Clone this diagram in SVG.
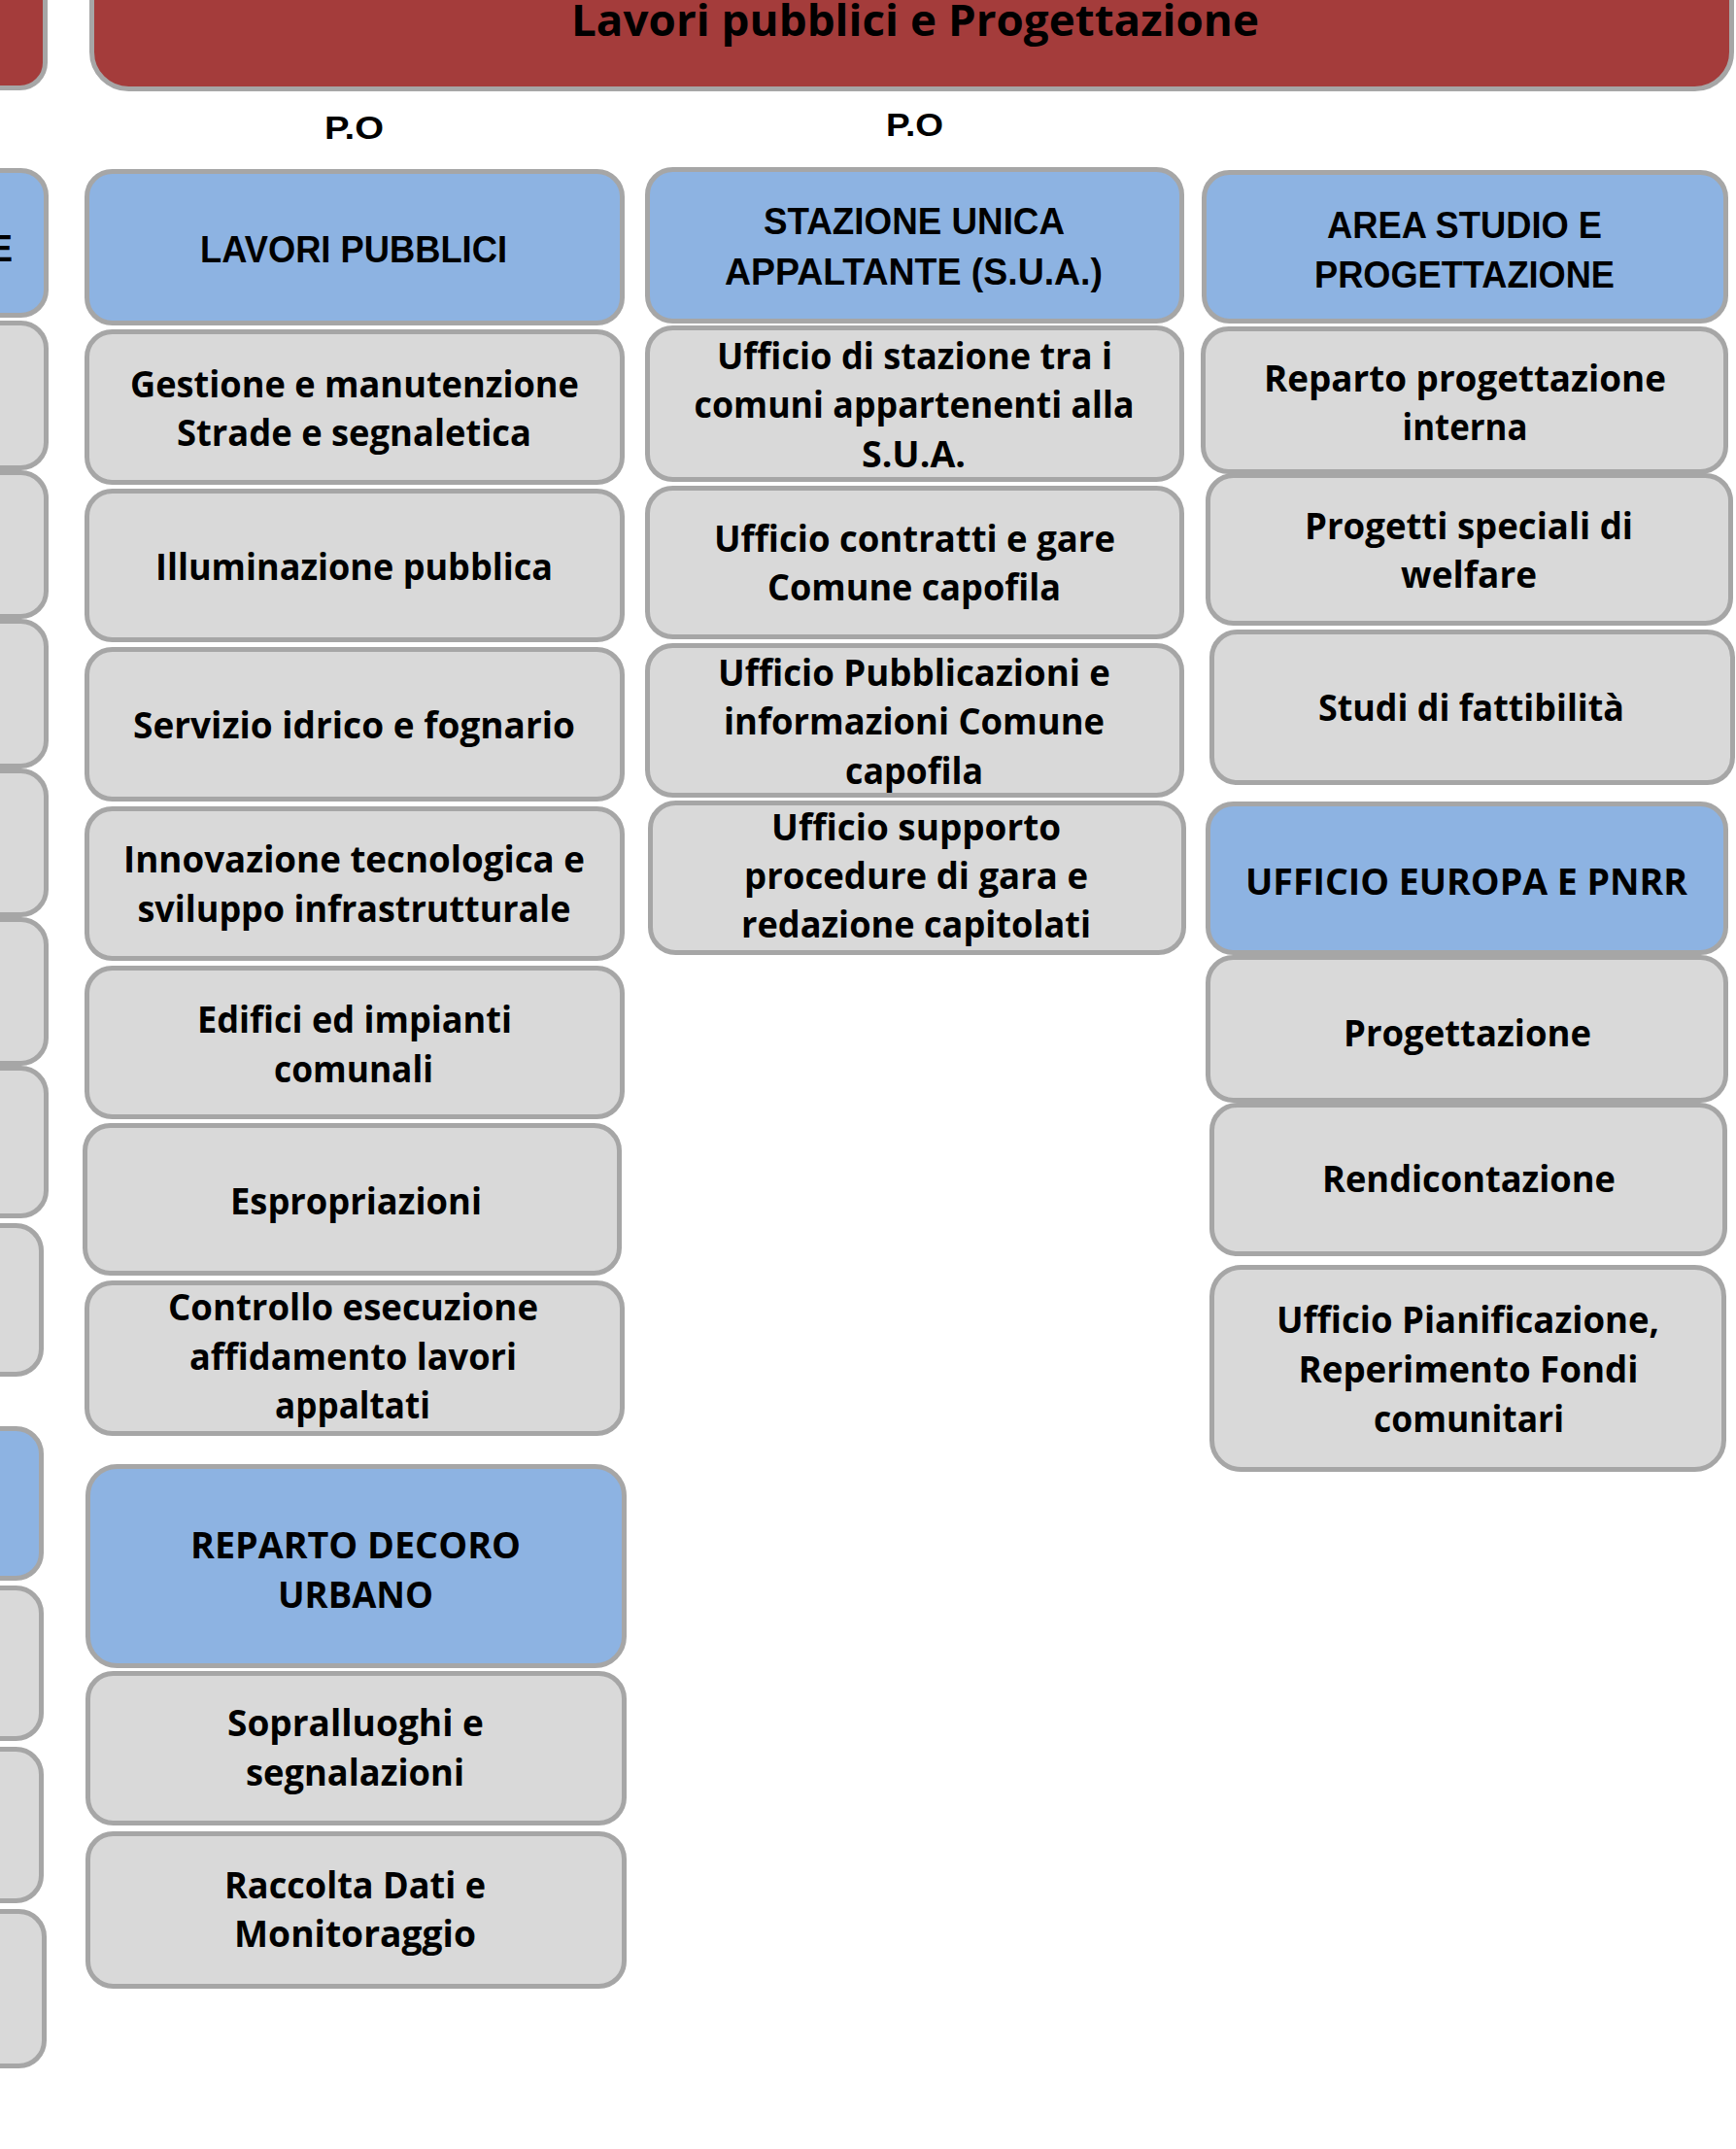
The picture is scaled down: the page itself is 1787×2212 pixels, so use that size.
<svg xmlns="http://www.w3.org/2000/svg" width="1787" height="2212" viewBox="0 0 1787 2212">
<style>
.red{fill:#A43C3B;stroke:#A6A6A6;stroke-width:5}
.blue{fill:#8DB3E2;stroke:#A6A6A6;stroke-width:5}
.gray{fill:#D9D9D9;stroke:#A6A6A6;stroke-width:5}
.h{font-family:"Liberation Sans",Arial,sans-serif;font-weight:700;font-size:38px;text-anchor:middle;fill:#000}
.t{font-family:"Open Sans","Noto Sans",sans-serif;font-weight:700;font-size:38px;text-anchor:middle;fill:#000}
.ttl{font-family:"Open Sans","Noto Sans",sans-serif;font-weight:700;font-size:45px;text-anchor:middle;fill:#000}
</style>
<rect width="1787" height="2212" fill="#FFFFFF"/>
<g id="connectors"/>

<!-- left partial column -->
<g id="left-red"><rect class="red" x="-60" y="-60" width="106.5" height="150.5" rx="26"/></g>
<g id="left-header1"><rect class="blue" x="-60" y="175.5" width="107.5" height="149" rx="26"/>
<text class="h" x="13" y="269" style="text-anchor:end">E</text></g>
<g id="left-b1"><rect class="gray" x="-60" y="332.5" width="107.5" height="149" rx="26"/></g>
<g id="left-b2"><rect class="gray" x="-60" y="486.5" width="107.5" height="148" rx="26"/></g>
<g id="left-b3"><rect class="gray" x="-60" y="639.5" width="107.5" height="149" rx="26"/></g>
<g id="left-b4"><rect class="gray" x="-60" y="793.5" width="107.5" height="148" rx="26"/></g>
<g id="left-b5"><rect class="gray" x="-60" y="946.5" width="107.5" height="148" rx="26"/></g>
<g id="left-b6"><rect class="gray" x="-60" y="1099.5" width="107.5" height="152" rx="26"/></g>
<g id="left-b7"><rect class="gray" x="-60" y="1261.5" width="102.5" height="153" rx="26"/></g>
<g id="left-header2"><rect class="blue" x="-60" y="1470.5" width="102.5" height="154" rx="26"/></g>
<g id="left-b8"><rect class="gray" x="-60" y="1634.5" width="102.5" height="155" rx="26"/></g>
<g id="left-b9"><rect class="gray" x="-60" y="1800.5" width="102.5" height="156" rx="26"/></g>
<g id="left-b10"><rect class="gray" x="-60" y="1967.5" width="105.5" height="159" rx="26"/></g>

<!-- title -->
<g id="title"><rect class="red" x="94.5" y="-60" width="1688" height="151.5" rx="38"/>
<text class="ttl" x="942" y="37" textLength="708" lengthAdjust="spacingAndGlyphs">Lavori pubblici e Progettazione</text></g>

<g id="po1"><text class="h" x="364.5" y="143" style="font-size:34px" textLength="61" lengthAdjust="spacingAndGlyphs">P.O</text></g>
<g id="po2"><text class="h" x="941.5" y="140" style="font-size:34px" textLength="59" lengthAdjust="spacingAndGlyphs">P.O</text></g>

<!-- column 1 -->
<g id="lavori-pubblici"><rect class="blue" x="89.5" y="176.5" width="551" height="156" rx="26"/>
<text class="h" x="364" y="270" textLength="316" lengthAdjust="spacingAndGlyphs">LAVORI PUBBLICI</text></g>
<g id="gestione"><rect class="gray" x="89.5" y="341.5" width="551" height="155" rx="26"/>
<text class="t" x="365" y="408.5" textLength="462" lengthAdjust="spacingAndGlyphs">Gestione e manutenzione</text>
<text class="t" x="364.5" y="458.5" textLength="365" lengthAdjust="spacingAndGlyphs">Strade e segnaletica</text></g>
<g id="illuminazione"><rect class="gray" x="89.5" y="505.5" width="551" height="153" rx="26"/>
<text class="t" x="364.5" y="597" textLength="409" lengthAdjust="spacingAndGlyphs">Illuminazione pubblica</text></g>
<g id="servizio-idrico"><rect class="gray" x="89.5" y="668.5" width="551" height="154" rx="26"/>
<text class="t" x="364.5" y="760" textLength="455" lengthAdjust="spacingAndGlyphs">Servizio idrico e fognario</text></g>
<g id="innovazione"><rect class="gray" x="89.5" y="832.5" width="551" height="154" rx="26"/>
<text class="t" x="364.5" y="898" textLength="475" lengthAdjust="spacingAndGlyphs">Innovazione tecnologica e</text>
<text class="t" x="364.5" y="948.5" textLength="446" lengthAdjust="spacingAndGlyphs">sviluppo infrastrutturale</text></g>
<g id="edifici"><rect class="gray" x="89.5" y="996.5" width="551" height="153" rx="26"/>
<text class="t" x="365" y="1062.5" textLength="324" lengthAdjust="spacingAndGlyphs">Edifici ed impianti</text>
<text class="t" x="364" y="1114" textLength="164" lengthAdjust="spacingAndGlyphs">comunali</text></g>
<g id="espropriazioni"><rect class="gray" x="87.5" y="1158.5" width="550" height="152" rx="26"/>
<text class="t" x="366.5" y="1250" textLength="259" lengthAdjust="spacingAndGlyphs">Espropriazioni</text></g>
<g id="controllo"><rect class="gray" x="89.5" y="1320.5" width="551" height="155" rx="26"/>
<text class="t" x="363.5" y="1359" textLength="381" lengthAdjust="spacingAndGlyphs">Controllo esecuzione</text>
<text class="t" x="363.5" y="1410" textLength="337" lengthAdjust="spacingAndGlyphs">affidamento lavori</text>
<text class="t" x="363" y="1460" textLength="160" lengthAdjust="spacingAndGlyphs">appaltati</text></g>
<g id="reparto-decoro"><rect class="blue" x="90.5" y="1509.5" width="552" height="205" rx="30"/>
<text class="t" x="366" y="1604" textLength="340" lengthAdjust="spacingAndGlyphs">REPARTO DECORO</text>
<text class="t" x="366" y="1654.5" textLength="160" lengthAdjust="spacingAndGlyphs">URBANO</text></g>
<g id="sopralluoghi"><rect class="gray" x="90.5" y="1722.5" width="552" height="154" rx="26"/>
<text class="t" x="366" y="1787" textLength="264" lengthAdjust="spacingAndGlyphs">Sopralluoghi e</text>
<text class="t" x="365.5" y="1837.5" textLength="225" lengthAdjust="spacingAndGlyphs">segnalazioni</text></g>
<g id="raccolta-dati"><rect class="gray" x="90.5" y="1887.5" width="552" height="157" rx="26"/>
<text class="t" x="365.5" y="1953.5" textLength="269" lengthAdjust="spacingAndGlyphs">Raccolta Dati e</text>
<text class="t" x="365.5" y="2003.5" textLength="249" lengthAdjust="spacingAndGlyphs">Monitoraggio</text></g>

<!-- column 2 -->
<g id="sua"><rect class="blue" x="666.5" y="174.5" width="550" height="156" rx="26"/>
<text class="h" x="941" y="241" textLength="310" lengthAdjust="spacingAndGlyphs">STAZIONE UNICA</text>
<text class="h" x="940.5" y="293" textLength="389" lengthAdjust="spacingAndGlyphs">APPALTANTE (S.U.A.)</text></g>
<g id="ufficio-stazione"><rect class="gray" x="666.5" y="337.5" width="550" height="156" rx="26"/>
<text class="t" x="941.5" y="379.5" textLength="407" lengthAdjust="spacingAndGlyphs">Ufficio di stazione tra i</text>
<text class="t" x="941" y="429.5" textLength="453" lengthAdjust="spacingAndGlyphs">comuni appartenenti alla</text>
<text class="t" x="940.5" y="481" textLength="107" lengthAdjust="spacingAndGlyphs">S.U.A.</text></g>
<g id="ufficio-contratti"><rect class="gray" x="666.5" y="502.5" width="550" height="153" rx="26"/>
<text class="t" x="941.5" y="568" textLength="413" lengthAdjust="spacingAndGlyphs">Ufficio contratti e gare</text>
<text class="t" x="941" y="618" textLength="302" lengthAdjust="spacingAndGlyphs">Comune capofila</text></g>
<g id="ufficio-pubblicazioni"><rect class="gray" x="666.5" y="664.5" width="550" height="154" rx="26"/>
<text class="t" x="941" y="706" textLength="404" lengthAdjust="spacingAndGlyphs">Ufficio Pubblicazioni e</text>
<text class="t" x="941" y="756" textLength="392" lengthAdjust="spacingAndGlyphs">informazioni Comune</text>
<text class="t" x="941" y="807" textLength="142" lengthAdjust="spacingAndGlyphs">capofila</text></g>
<g id="ufficio-supporto"><rect class="gray" x="669.5" y="826.5" width="549" height="154" rx="26"/>
<text class="t" x="943" y="865" textLength="298" lengthAdjust="spacingAndGlyphs">Ufficio supporto</text>
<text class="t" x="943" y="915" textLength="354" lengthAdjust="spacingAndGlyphs">procedure di gara e</text>
<text class="t" x="943" y="965" textLength="360" lengthAdjust="spacingAndGlyphs">redazione capitolati</text></g>

<!-- column 3 -->
<g id="area-studio"><rect class="blue" x="1239.5" y="177.5" width="537" height="153" rx="26"/>
<text class="h" x="1507.5" y="245" textLength="283" lengthAdjust="spacingAndGlyphs">AREA STUDIO E</text>
<text class="h" x="1507.5" y="296" textLength="309" lengthAdjust="spacingAndGlyphs">PROGETTAZIONE</text></g>
<g id="reparto-progettazione"><rect class="gray" x="1238.5" y="338.5" width="538" height="147" rx="26"/>
<text class="t" x="1508" y="403" textLength="414" lengthAdjust="spacingAndGlyphs">Reparto progettazione</text>
<text class="t" x="1508" y="453" textLength="129" lengthAdjust="spacingAndGlyphs">interna</text></g>
<g id="progetti-speciali"><rect class="gray" x="1243.5" y="489.5" width="538" height="152" rx="26"/>
<text class="t" x="1512" y="554.5" textLength="338" lengthAdjust="spacingAndGlyphs">Progetti speciali di</text>
<text class="t" x="1512" y="605" textLength="140" lengthAdjust="spacingAndGlyphs">welfare</text></g>
<g id="studi-fattibilita"><rect class="gray" x="1247.5" y="650.5" width="536" height="155" rx="26"/>
<text class="t" x="1514.5" y="742" textLength="315" lengthAdjust="spacingAndGlyphs">Studi di fattibilità</text></g>
<g id="ufficio-europa"><rect class="blue" x="1243.5" y="827.5" width="533" height="153" rx="26"/>
<text class="t" x="1509.5" y="920.5" textLength="455" lengthAdjust="spacingAndGlyphs">UFFICIO EUROPA E PNRR</text></g>
<g id="progettazione"><rect class="gray" x="1243.5" y="985.5" width="533" height="147" rx="26"/>
<text class="t" x="1510.5" y="1076.5" textLength="255" lengthAdjust="spacingAndGlyphs">Progettazione</text></g>
<g id="rendicontazione"><rect class="gray" x="1247.5" y="1137.5" width="528" height="153" rx="26"/>
<text class="t" x="1512" y="1227" textLength="302" lengthAdjust="spacingAndGlyphs">Rendicontazione</text></g>
<g id="ufficio-pianificazione"><rect class="gray" x="1247.5" y="1304.5" width="527" height="208" rx="30"/>
<text class="t" x="1511" y="1372" textLength="394" lengthAdjust="spacingAndGlyphs">Ufficio Pianificazione,</text>
<text class="t" x="1511.5" y="1423" textLength="350" lengthAdjust="spacingAndGlyphs">Reperimento Fondi</text>
<text class="t" x="1512" y="1474" textLength="196" lengthAdjust="spacingAndGlyphs">comunitari</text></g>
</svg>
